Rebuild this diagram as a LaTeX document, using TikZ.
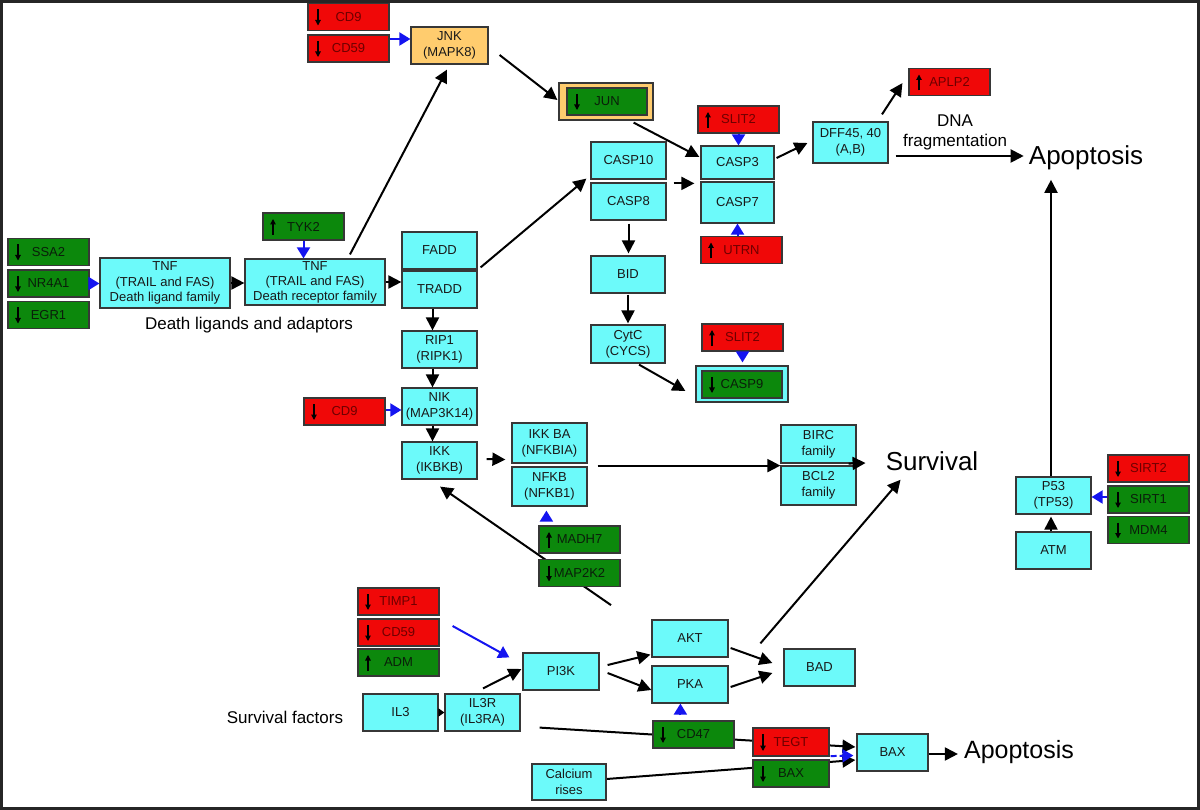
\documentclass[tikz,border=0pt]{standalone}
\usepackage{fontspec}
\setmainfont{Liberation Sans}
\usetikzlibrary{arrows.meta,calc,backgrounds}
\definecolor{cyanfill}{RGB}{108,250,250}
\definecolor{redfill}{RGB}{240,8,8}
\definecolor{greenfill}{RGB}{12,136,12}
\definecolor{orangefill}{RGB}{255,204,110}
\definecolor{boxline}{RGB}{55,55,55}
\definecolor{redtext}{RGB}{110,0,0}
\definecolor{greentext}{RGB}{10,30,10}
\definecolor{arrblue}{RGB}{20,20,240}
\begin{document}
\begin{tikzpicture}[x=1pt,y=-1pt,
  cellbox/.style={draw=boxline, line width=1.2pt, inner sep=1pt, align=center,
    font=\fontsize{13}{16}\selectfont, minimum width=75pt, minimum height=37pt},
  cbox/.style={cellbox, fill=cyanfill, text=black!90},
  obox/.style={cellbox, fill=orangefill, text=black!90},
  gene/.style={cellbox, minimum width=81pt, minimum height=27pt},
  rgene/.style={gene, fill=redfill, text=redtext},
  ggene/.style={gene, fill=greenfill, text=greentext},
  glyph/.style={line width=1.1pt, black, -{Triangle[length=5.5pt,width=5.5pt]}},
  downreg/.style={path picture={\draw[glyph] ([shift={(10pt,-6pt)}]path picture bounding box.north west) -- ([shift={(10pt,5pt)}]path picture bounding box.south west);}},
  upreg/.style={path picture={\draw[glyph] ([shift={(10pt,5pt)}]path picture bounding box.south west) -- ([shift={(10pt,-6pt)}]path picture bounding box.north west);}},
  arr/.style={line width=2pt, black, -{Triangle[length=13pt,width=13pt]}},
  barr/.style={line width=2pt, arrblue, -{Triangle[length=11pt,width=13pt]}},
  lbl/.style={inner sep=0pt, text=black}
]
\useasboundingbox (0,0) rectangle (1200,810);
\draw[line width=2.5pt, black!85] (1.5,1.5) rectangle (1198.5,808.5);

% ---- death ligands
\node[ggene,downreg] (ssa2) at (48.5,252) {SSA2};
\node[ggene,downreg] (nr4a1) at (48.5,283.5) {NR4A1};
\node[ggene,downreg] (egr1) at (48.5,315) {EGR1};
\node[cbox,minimum width=130pt,minimum height=50pt,font=\fontsize{13}{15.5}\selectfont] (tnfl) at (165,283) {TNF\\(TRAIL and FAS)\\Death ligand family};
\node[cbox,minimum width=140pt,minimum height=46pt,inner sep=0pt,font=\fontsize{13}{15}\selectfont] (tnfr) at (315,282) {TNF\\(TRAIL and FAS)\\Death receptor family};
\node[ggene,upreg] (tyk2) at (303.5,226.5) {TYK2};
\node[lbl,font=\fontsize{17}{20}\selectfont] (dla) at (249,325) {Death ligands and adaptors};

% ---- JNK branch
\node[rgene,downreg] (cd9a) at (348.5,17) {CD9};
\node[rgene,downreg] (cd59a) at (348.5,48.5) {CD59};
\node[obox,minimum width=77pt] (jnk) at (449.5,45.5) {JNK\\(MAPK8)};
\node[obox,minimum width=94pt,minimum height=37pt] (junout) at (606,101.5) {};
\node[ggene,downreg,minimum width=80pt] (jun) at (607,101.5) {JUN};

% ---- caspases
\node[cbox] (casp10) at (628.5,160.5) {CASP10};
\node[cbox] (casp8) at (628.5,201.5) {CASP8};
\node[cbox,minimum width=73pt,minimum height=33pt] (casp3) at (737.5,162.5) {CASP3};
\node[cbox,minimum width=73pt,minimum height=41pt] (casp7) at (737.5,202.5) {CASP7};
\node[rgene,upreg] (slit2a) at (738.5,119.5) {SLIT2};
\node[rgene,upreg] (utrn) at (741.5,250) {UTRN};
\node[cbox,minimum height=41pt] (dff) at (850.5,142.5) {DFF45, 40\\(A,B)};
\node[rgene,upreg] (aplp2) at (949.5,82) {APLP2};
\node[lbl,font=\fontsize{17}{20}\selectfont,align=center] (dna) at (955,132) {DNA\\fragmentation};
\node[lbl,font=\fontsize{26}{30}\selectfont] (apop1) at (1086,157.5) {Apoptosis};
\node[cbox,minimum width=74pt] (bid) at (628,274.5) {BID};
\node[cbox,minimum width=74pt,minimum height=38pt] (cytc) at (628,344) {CytC\\(CYCS)};
\node[rgene,upreg] (slit2b) at (742.5,337.5) {SLIT2};
\node[cbox,minimum width=92pt,minimum height=36pt] (casp9out) at (742,384) {};
\node[ggene,downreg,minimum width=80pt] (casp9) at (742,384.5) {CASP9};

% ---- adaptors / NFKB
\node[cbox] (fadd) at (439.5,250.5) {FADD};
\node[cbox] (tradd) at (439.5,289.5) {TRADD};
\node[cbox] (rip1) at (439.5,349.5) {RIP1\\(RIPK1)};
\node[cbox] (nik) at (439.5,406.5) {NIK\\(MAP3K14)};
\node[cbox] (ikk) at (439.5,460.5) {IKK\\(IKBKB)};
\node[rgene,downreg] (cd9b) at (344.5,411.5) {CD9};
\node[cbox,minimum height=40pt] (ikba) at (549.5,443) {IKK BA\\(NFKBIA)};
\node[cbox,minimum height=39pt] (nfkb) at (549.5,486.5) {NFKB\\(NFKB1)};
\node[ggene,upreg] (madh7) at (579.5,539.5) {MADH7};
\node[ggene,downreg] (map2k2) at (579.5,573) {MAP2K2};
\node[cbox,minimum height=38pt] (birc) at (818.5,444) {BIRC\\family};
\node[cbox,minimum height=39pt] (bcl2) at (818.5,485.5) {BCL2\\family};
\node[lbl,font=\fontsize{26}{30}\selectfont] (surv) at (932,461) {Survival};

% ---- P53
\node[rgene,downreg] (sirt2) at (1148.5,468.5) {SIRT2};
\node[ggene,downreg] (sirt1) at (1148.5,499.5) {SIRT1};
\node[ggene,downreg] (mdm4) at (1148.5,530) {MDM4};
\node[cbox] (p53) at (1053.5,495.5) {P53\\(TP53)};
\node[cbox] (atm) at (1053.5,550.5) {ATM};

% ---- survival factors
\node[rgene,downreg] (timp1) at (398.5,601.5) {TIMP1};
\node[rgene,downreg] (cd59b) at (398.5,632.5) {CD59};
\node[ggene,upreg] (adm) at (398.5,662.5) {ADM};
\node[cbox,minimum width=76pt] (pi3k) at (561,671.5) {PI3K};
\node[cbox] (il3) at (400.5,712.5) {IL3};
\node[cbox] (il3r) at (482.5,712.5) {IL3R\\(IL3RA)};
\node[lbl,font=\fontsize{17}{20}\selectfont] (sf) at (285,717) {Survival factors};
\node[cbox,minimum width=76pt] (akt) at (690,638.5) {AKT};
\node[cbox,minimum width=76pt] (pka) at (690,684.5) {PKA};
\node[ggene,downreg] (cd47) at (693.5,734.5) {CD47};
\node[cbox,minimum width=71pt] (bad) at (819.5,667.5) {BAD};
\node[rgene,downreg,minimum width=76pt,minimum height=28pt] (tegt) at (791,742) {TEGT};
\node[ggene,downreg,minimum width=76pt] (baxg) at (791,773.5) {BAX};
\node[cbox,minimum width=71pt] (baxc) at (892.5,752.5) {BAX};
\node[cbox,minimum width=74pt,minimum height=36pt] (calcium) at (569,782) {Calcium\\rises};
\node[lbl,font=\fontsize{25}{30}\selectfont] (apop2) at (1019,752) {Apoptosis};

% ---- helper coordinates
\coordinate (dffout) at ($(dff.east)+(7,13.5)$);
\coordinate (cd9bout) at ($(cd9b.east)+(0,-1.5)$);
\coordinate (baxout) at ($(baxc.east)+(0,1.5)$);
\coordinate (cd59out) at ($(cd59a.east)+(0,-9.5)$);

% ---- connectors
\draw[barr] (nr4a1.east) -- (nr4a1.east -| tnfl.west);
\draw[arr] (tnfl.east) -- (tnfl.east -| tnfr.west);
\draw[barr] (tyk2.south) -- (tyk2.south |- tnfr.north);
\draw[arr] (tnfr.east) -- (tnfr.east -| tradd.west);
\draw[arr] ($(tnfr.north)+(35,-4)$) -- ($(jnk.south)+(-2.5,5)$);
\draw[barr] (cd59out) -- (cd59out -| jnk.west);
\draw[arr] ($(jnk.east)+(11,9.5)$) -- ($(junout.west)+(-1,-1.5)$);
\draw[arr] ($(junout.south east)+(-20,2)$) -- ($(casp3.west)+(-1,-5.5)$);
\draw[barr] (slit2a.south) -- (slit2a.south |- casp3.north);
\draw[barr] (casp7.south |- utrn.north) -- (casp7.south);
\draw[arr] ($(casp8.north east)+(7,1)$) -- ($(casp7.north west)+(-6,2)$);
\draw[arr] ($(casp3.east)+(2,-4.5)$) -- ($(dff.west)+(-5,0.5)$);
\draw[arr] ($(dff.north)+(31.5,-7)$) -- ($(aplp2.south west)+(-6,-13)$);
\draw[arr,shorten >=5pt] (dffout) -- (dffout -| apop1.west);
\draw[arr,shorten <=3pt,shorten >=2pt] (casp8.south) -- (casp8.south |- bid.north);
\draw[arr,shorten <=1pt,shorten >=1pt] (bid.south) -- (cytc.north);
\draw[arr] ($(cytc.south)+(11,1)$) -- ($(casp9out.west)+(-10,7)$);
\draw[barr,shorten >=3pt] (slit2b.south) -- (slit2b.south |- casp9out.north);
\draw[arr] ($(tradd.north east)+(3,-3)$) -- ($(casp10.south west)+(-4,-1)$);
\draw[arr] ([xshift=-7pt]tradd.south) -- ([xshift=-7pt]rip1.north);
\draw[arr] ([xshift=-7pt]rip1.south) -- ([xshift=-7pt]nik.north);
\draw[arr] ([xshift=-7pt]nik.south) -- ([xshift=-7pt]ikk.north);
\draw[barr] (cd9bout) -- (cd9bout -| nik.west);
\draw[arr] ($(ikk.east)+(9,-1.5)$) -- ($(ikba.south west)+(-6,-4)$);
\draw[arr] ($(ikba.south east)+(10,2)$) -- ($(birc.south west)+(0,2)$);
\draw[arr] ($(birc.south east)+(-8,0)$) -- ($(surv.west)+(-20,2)$);
\draw[barr,shorten <=8pt] ($(madh7.north west)+(8,0)$) -- ($(nfkb.south west)+(35,4)$);
\draw[arr] ($(atm.north)+(-2.5,0)$) -- ($(p53.south)+(-2.5,2)$);
\draw[barr] ($(sirt1.west)+(0,-2.5)$) -- ($(p53.east)+(0,1.5)$);
\draw[arr] ($(p53.north)+(-2.5,0)$) -- ($(apop1.south)+(-35,10)$);
\draw[line width=1.5pt,-{Triangle[length=6pt,width=8pt]}] (il3.east) -- (il3r.west);
\draw[arr] ($(il3r.north)+(0.5,-5)$) -- ($(pi3k.west)+(-1,-2.5)$);
\draw[barr] ($(cd59b.east)+(13,-6.5)$) -- ($(pi3k.north west)+(-13,5)$);
\draw[arr] ($(pi3k.east)+(8,-6.5)$) -- ($(akt.south west)+(-1,-3)$);
\draw[arr] ($(pi3k.east)+(8,1.5)$) -- ($(pka.west)+(0,5.5)$);
\draw[arr] ($(akt.east)+(2,9.5)$) -- ($(bad.west)+(-11,-4.5)$);
\draw[arr] ($(pka.east)+(2,2.5)$) -- ($(bad.west)+(-11,5.5)$);
\draw[arr] ($(bad.north west)+(-23,-5)$) -- ($(surv.south west)+(15,9)$);
\draw[barr,shorten <=5pt] ($(cd47.north west)+(28,0)$) -- ($(pka.south west)+(29,0)$);
\draw[barr,dashed,dash pattern=on 6pt off 3pt] ($(tegt.south east)+(1,-0.5)$) -- ($(baxc.west)+(-3,3)$);
\draw[arr,shorten >=6pt] (baxout) -- (baxout -| apop2.west);

\begin{pgfonlayer}{background}
\draw[arr] ($(il3r.south east)+(19,-4)$) -- ($(baxc.west)+(-1,-5.5)$);
\draw[arr] ($(calcium.east)+(0,-3)$) -- ($(baxc.west)+(-1,7.5)$);
\draw[arr] ($(map2k2.south)+(31.5,18)$) -- ($(ikk.south)+(0.5,7)$);
\end{pgfonlayer}
\end{tikzpicture}
\end{document}
